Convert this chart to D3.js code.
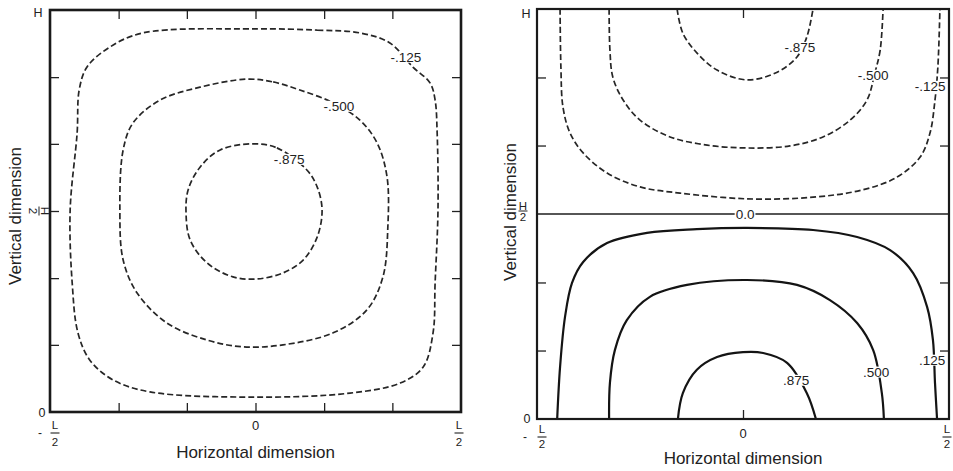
<!DOCTYPE html>
<html>
<head>
<meta charset="utf-8">
<script src="https://cdn.jsdelivr.net/npm/d3@7"></script>
<style>
  body { margin: 0; background: #fff; }
  text { font-family: "Liberation Sans", Arial, sans-serif; fill: #222; }
</style>
</head>
<body>
<script>
// contour levels and label positions (x in units of L, y in units of H)
var leftLevels = ["-.125", "-.500", "-.875"];
var leftLabelPos = [[0.366, 0.883], [0.203, 0.761], [0.082, 0.629]];

// closed contours of the left panel
var leftC125 = [[0.000,0.953],[0.150,0.950],[0.254,0.943],[0.327,0.918],[0.383,0.858],[0.425,0.818],
  [0.437,0.776],[0.442,0.694],[0.444,0.502],[0.437,0.321],[0.432,0.197],[0.408,0.112],[0.352,0.072],
  [0.230,0.047],[0.000,0.037],[-0.257,0.050],[-0.347,0.080],[-0.403,0.129],[-0.432,0.197],
  [-0.446,0.321],[-0.451,0.502],[-0.434,0.694],[-0.429,0.801],[-0.410,0.858],[-0.354,0.908],[-0.274,0.943]];
var leftC500 = [[-0.021,0.828],[0.043,0.821],[0.108,0.801],[0.189,0.769],[0.254,0.726],[0.296,0.669],
  [0.320,0.585],[0.322,0.460],[0.310,0.336],[0.271,0.254],[0.189,0.197],[0.067,0.167],[-0.030,0.162],
  [-0.118,0.179],[-0.215,0.221],[-0.288,0.296],[-0.322,0.378],[-0.330,0.502],[-0.322,0.652],
  [-0.298,0.719],[-0.232,0.776],[-0.135,0.808]];
var leftC875 = [[-0.006,0.667],[0.052,0.657],[0.125,0.602],[0.150,0.560],[0.162,0.502],[0.150,0.435],
  [0.116,0.378],[0.067,0.346],[0.004,0.331],[-0.055,0.336],[-0.118,0.371],[-0.159,0.428],
  [-0.169,0.495],[-0.164,0.552],[-0.135,0.609],[-0.086,0.652]];

// right panel: negative cell on top (dashed), positive below (solid)
var rightLevels = ["-.875", "-.500", "-.125", "0.0", ".875", ".500", ".125"];
var rightLabelPos = [[0.138,0.907],[0.316,0.839],[0.454,0.812],[0.005,0.5],[0.129,0.095],[0.323,0.115],[0.459,0.144]];

var rightN875 = [[-0.160,1.0],[-0.146,0.941],[-0.112,0.893],[-0.063,0.851],[0.010,0.827],[0.083,0.846],
  [0.131,0.883],[0.155,0.932],[0.170,1.0]];
var rightN500 = [[-0.325,1.0],[-0.323,0.900],[-0.316,0.834],[-0.291,0.778],[-0.250,0.729],[-0.177,0.688],
  [-0.087,0.668],[0.010,0.661],[0.114,0.666],[0.194,0.688],[0.260,0.729],[0.301,0.778],[0.320,0.844],
  [0.333,0.900],[0.340,1.0]];
var rightN125 = [[-0.444,1.0],[-0.442,0.859],[-0.437,0.761],[-0.420,0.698],[-0.388,0.649],[-0.330,0.600],
  [-0.250,0.566],[-0.153,0.551],[0.010,0.537],[0.170,0.541],[0.291,0.559],[0.374,0.590],[0.430,0.639],
  [0.454,0.698],[0.466,0.778],[0.473,0.859],[0.478,1.0]];
var rightZero = [[-0.5,0.5],[0.5,0.5]];
var rightP875 = [[-0.158,0],[-0.146,0.063],[-0.112,0.120],[-0.063,0.151],[0.000,0.163],[0.049,0.161],
  [0.107,0.137],[0.155,0.063],[0.177,0]];
var rightP500 = [[-0.325,0],[-0.323,0.088],[-0.311,0.168],[-0.282,0.241],[-0.226,0.298],[-0.136,0.327],
  [0.010,0.339],[0.131,0.327],[0.211,0.290],[0.277,0.234],[0.316,0.168],[0.337,0.063],[0.342,0]];
var rightP125 = [[-0.451,0],[-0.444,0.127],[-0.432,0.249],[-0.415,0.332],[-0.388,0.383],[-0.330,0.429],
  [-0.233,0.454],[-0.112,0.463],[0.010,0.466],[0.170,0.461],[0.277,0.444],[0.357,0.412],[0.413,0.356],
  [0.447,0.273],[0.461,0.193],[0.466,0.088],[0.471,0]];

// tick positions
var leftXTicks = [-0.333, -0.167, 0, 0.167, 0.333];
var leftYTicks = [0.167, 0.333, 0.5, 0.667, 0.833];
var rightXTicks = [0];
var rightYTicks = [0.167, 0.333, 0.667, 0.833];

var svg = d3.select("body").append("svg")
    .attr("width", 953)
    .attr("height", 471);

var dashStyle = {stroke: "#262626", width: 1.7, dash: "6,3"};
var solidStyle = {stroke: "#141414", width: 2.2, dash: null};
var zeroStyle = {stroke: "#1e1e1e", width: 1.3, dash: null};

//layout of each panel (pixel box plus label offsets)
var panel1 = {id: "p1", x0: 50, x1: 461, top: 10, bottom: 412, frameW: 2.6,
  hDy: 7, hDx: -12, zDx: -8, zDy: 5, fracL: 17, fracBar: 21, frac2: 34, minusDx: -10,
  zeroDy: 18, titleDy: 46, vTitleX: 21, vTitleY: 216};
var panel2 = {id: "p2", x0: 537, x1: 949, top: 9, bottom: 419, frameW: 2.2,
  hDy: 9, hDx: -11, zDx: -10, zDy: 4, fracL: 14, fracBar: 18, frac2: 29, minusDx: -12,
  zeroDy: 19, titleDy: 45, vTitleX: 516, vTitleY: 212};

function drawPanel(p, contours, styles, closed, levels, labelPos, xTicks, yTicks) {
    var g = svg.append("g").attr("id", p.id);
    var x = d3.scaleLinear().domain([-0.5, 0.5]).range([p.x0, p.x1]);
    var y = d3.scaleLinear().domain([0, 1]).range([p.bottom, p.top]);

    g.append("clipPath").attr("id", p.id + "clip")
        .append("rect")
        .attr("x", x(-0.5)).attr("y", y(1))
        .attr("width", x(0.5) - x(-0.5)).attr("height", y(0) - y(1));

    var line = d3.line()
        .x(function(d) { return x(d[0]); })
        .y(function(d) { return y(d[1]); })
        .curve(closed ? d3.curveCatmullRomClosed.alpha(0.5) : d3.curveCatmullRom.alpha(0.5));

    var lines = g.append("g").attr("clip-path", "url(#" + p.id + "clip)");
    contours.forEach(function(c, i) {
        var s = styles[i];
        lines.append("path")
            .attr("d", line(c))
            .attr("fill", "none")
            .attr("stroke", s.stroke)
            .attr("stroke-width", s.width)
            .attr("stroke-dasharray", s.dash);
    });

    // contour labels sit on a white patch so the line is broken under them
    var lab = g.append("g");
    levels.forEach(function(txt, i) {
        var t = lab.append("text")
            .attr("x", x(labelPos[i][0]))
            .attr("y", y(labelPos[i][1]))
            .attr("dy", "0.35em")
            .attr("text-anchor", "middle")
            .style("font-size", "13.5px")
            .text(txt);
        var bb = t.node().getBBox();
        lab.insert("rect", function() { return t.node(); })
            .attr("x", bb.x - 1).attr("y", bb.y + 2)
            .attr("width", bb.width + 2).attr("height", bb.height - 4)
            .attr("fill", "#fff");
    });

    // inward ticks on all four sides
    var tl = 9;
    var axes = [
        [d3.axisBottom(x).tickValues(xTicks), "translate(0," + y(0) + ")"],
        [d3.axisTop(x).tickValues(xTicks), "translate(0," + y(1) + ")"],
        [d3.axisLeft(y).tickValues(yTicks), "translate(" + x(-0.5) + ",0)"],
        [d3.axisRight(y).tickValues(yTicks), "translate(" + x(0.5) + ",0)"]
    ];
    axes.forEach(function(a) {
        var ag = g.append("g").attr("transform", a[1])
            .call(a[0].tickSize(-tl).tickFormat(""));
        ag.select(".domain").remove();
        ag.selectAll("line").attr("stroke", "#222").attr("stroke-width", 1.3);
    });

    g.append("rect")
        .attr("x", x(-0.5)).attr("y", y(1))
        .attr("width", x(0.5) - x(-0.5)).attr("height", y(0) - y(1))
        .attr("fill", "none")
        .attr("stroke", "#1a1a1a")
        .attr("stroke-width", p.frameW);

    // y end labels
    g.append("text").attr("x", x(-0.5) + p.hDx).attr("y", y(1) + p.hDy)
        .attr("text-anchor", "middle").style("font-size", "12.5px").text("H");
    g.append("text").attr("x", x(-0.5) + p.zDx).attr("y", y(0) + p.zDy)
        .attr("text-anchor", "middle").style("font-size", "12.5px").text("0");

    // x tick labels: -L/2, 0, L/2
    function frac(cx, num, den) {
        g.append("text").attr("x", cx).attr("y", y(0) + p.fracL)
            .attr("text-anchor", "middle").style("font-size", "11.5px").text(num);
        g.append("line")
            .attr("x1", cx - 4.5).attr("x2", cx + 4.5)
            .attr("y1", y(0) + p.fracBar).attr("y2", y(0) + p.fracBar)
            .attr("stroke", "#222").attr("stroke-width", 1.1);
        g.append("text").attr("x", cx).attr("y", y(0) + p.frac2)
            .attr("text-anchor", "middle").style("font-size", "11.5px").text(den);
    }
    frac(x(-0.5) + 5, "L", "2");
    g.append("text").attr("x", x(-0.5) + p.minusDx).attr("y", y(0) + p.fracBar + 4)
        .attr("text-anchor", "middle").style("font-size", "12px").text("-");
    frac(x(0.5) - 2, "L", "2");
    g.append("text").attr("x", x(0)).attr("y", y(0) + p.zeroDy)
        .attr("text-anchor", "middle").style("font-size", "13px").text("0");

    g.append("text").attr("x", x(0)).attr("y", y(0) + p.titleDy)
        .attr("text-anchor", "middle").style("font-size", "17px").text("Horizontal dimension");
    g.append("text")
        .attr("transform", "translate(" + p.vTitleX + "," + p.vTitleY + ") rotate(-90)")
        .attr("text-anchor", "middle").style("font-size", "17px").text("Vertical dimension");

    return {g: g, x: x, y: y};
}

var left = drawPanel(panel1, [leftC125, leftC500, leftC875],
    [dashStyle, dashStyle, dashStyle], true, leftLevels, leftLabelPos, leftXTicks, leftYTicks);

var right = drawPanel(panel2, [rightN875, rightN500, rightN125, rightZero, rightP875, rightP500, rightP125],
    [dashStyle, dashStyle, dashStyle, zeroStyle, solidStyle, solidStyle, solidStyle], false,
    rightLevels, rightLabelPos, rightXTicks, rightYTicks);

// H/2 label: turned sideways on the left panel, upright on the right
var hl = left.g.append("g")
    .attr("transform", "translate(39," + left.y(0.5) + ") rotate(90)");
hl.append("text").attr("x", 0).attr("y", -1.5).attr("text-anchor", "middle").style("font-size", "11.5px").text("H");
hl.append("line").attr("x1", -4.5).attr("x2", 4.5).attr("y1", 0).attr("y2", 0).attr("stroke", "#222").attr("stroke-width", 1);
hl.append("text").attr("x", 0).attr("y", 10).attr("text-anchor", "middle").style("font-size", "11.5px").text("2");

var hr = right.g.append("g")
    .attr("transform", "translate(" + (right.x(-0.5) - 14) + "," + (right.y(0.5) - 3) + ")");
hr.append("text").attr("x", 0).attr("y", -1.5).attr("text-anchor", "middle").style("font-size", "11.5px").text("H");
hr.append("line").attr("x1", -4.5).attr("x2", 4.5).attr("y1", 0).attr("y2", 0).attr("stroke", "#222").attr("stroke-width", 1);
hr.append("text").attr("x", 0).attr("y", 10).attr("text-anchor", "middle").style("font-size", "11.5px").text("2");
</script>
</body>
</html>
